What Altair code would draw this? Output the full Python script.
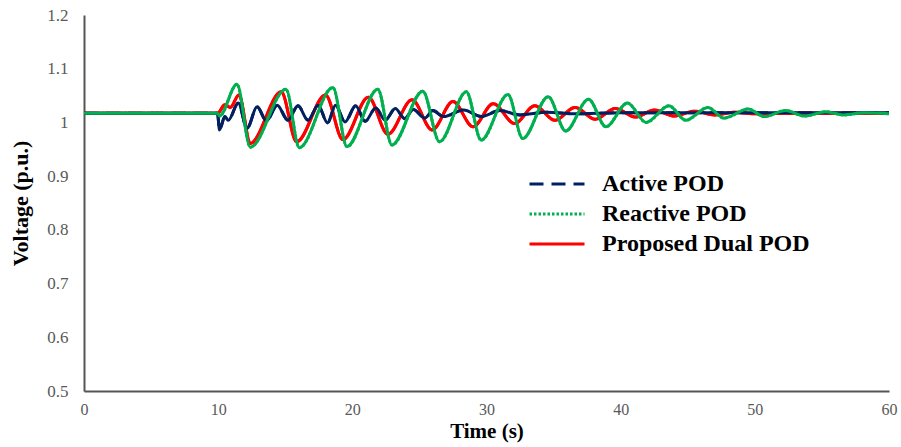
import altair as alt
import pandas as pd

# ---- data ----
SERIES = ["Active POD", "Reactive POD", "Proposed Dual POD"]
COLORS = ["#002060", "#00B050", "#FF0000"]

active_t = [0, 9.95, 10.1, 10.5, 10.75, 11.5, 12.15, 12.9, 13.6, 14.4, 15.2, 15.95, 16.7,
            17.45, 18.15, 18.75, 19.45, 20.25, 20.95, 21.75, 22.45, 23.2, 23.9, 24.55,
            25.4, 26.0, 26.8, 28.3, 29.6, 31.0, 32.5, 34.5, 36.5, 40, 60]
active_v = [1.017, 1.017, 0.986, 1.011, 1.004, 1.036, 0.989, 1.029, 1.003, 1.032, 1.004,
            1.031, 1.004, 1.032, 0.999, 1.032, 1.001, 1.031, 1.002, 1.027, 1.004, 1.026,
            1.007, 1.024, 1.008, 1.022, 1.011, 1.023, 1.011, 1.022, 1.014, 1.019, 1.016,
            1.018, 1.018]

reactive_t = [0, 9.95, 10.1, 11.4, 12.4, 15.05, 16.05, 18.55, 19.6, 21.9, 22.95, 25.25,
              26.5, 28.5, 29.6, 31.6, 32.7, 34.6, 35.9, 37.6, 38.9, 40.5, 41.9, 43.6,
              44.85, 46.5, 47.7, 49.5, 50.7, 52.3, 53.7, 55.3, 56.6, 58.2, 60]
reactive_v = [1.017, 1.017, 1.012, 1.071, 0.954, 1.062, 0.953, 1.065, 0.955, 1.062, 0.958,
              1.058, 0.964, 1.057, 0.967, 1.052, 0.970, 1.048, 0.984, 1.043, 0.992, 1.036,
              1.000, 1.031, 1.004, 1.028, 1.008, 1.025, 1.011, 1.022, 1.012, 1.020, 1.014,
              1.018, 1.016]

dual_t = [0, 9.95, 10.5, 10.9, 11.55, 12.4, 14.7, 15.85, 18.0, 19.3, 21.2, 22.65, 24.45,
          25.95, 27.5, 29.0, 30.5, 32.1, 33.6, 35.1, 36.6, 38.1, 39.6, 41.1, 42.5, 44.0,
          45.5, 47.0, 48.5, 50.0, 52, 60]
dual_v = [1.017, 1.017, 1.033, 1.028, 1.051, 0.961, 1.057, 0.964, 1.051, 0.968, 1.047,
          0.978, 1.042, 0.986, 1.039, 0.992, 1.035, 0.998, 1.031, 1.004, 1.028, 1.006,
          1.026, 1.010, 1.023, 1.012, 1.021, 1.014, 1.019, 1.016, 1.017, 1.017]

x_ticks = [0, 10, 20, 30, 40, 50, 60]
y_ticks = [0.5, 0.6, 0.7, 0.8, 0.9, 1.0, 1.1, 1.2]

rows = []
for name, ts, vs in [(SERIES[0], active_t, active_v),
                     (SERIES[1], reactive_t, reactive_v),
                     (SERIES[2], dual_t, dual_v)]:
    for i, (t, v) in enumerate(zip(ts, vs)):
        rows.append({"series": name, "t": t, "v": v, "i": i})
df = pd.DataFrame(rows)

FONT = "Liberation Serif"

x = alt.X("t:Q", scale=alt.Scale(domain=[0, 60], nice=False),
          axis=alt.Axis(values=x_ticks, title="Time (s)", grid=False, ticks=False,
                        labelPadding=10, titlePadding=3, domainColor="#555555",
                        domainWidth=2, labelFont=FONT, labelFontSize=16,
                        labelColor="#595959", titleFont=FONT, titleFontSize=21,
                        titleFontWeight="bold", titleColor="black", labelFlush=False))
y = alt.Y("v:Q", scale=alt.Scale(domain=[0.5, 1.2], nice=False, zero=False),
          axis=alt.Axis(values=y_ticks, format="~g", title="Voltage (p.u.)", grid=False,
                        ticks=False, labelPadding=16, titlePadding=14,
                        domainColor="#555555", domainWidth=2, labelFont=FONT,
                        labelFontSize=17, labelColor="#595959", titleFont=FONT,
                        titleFontSize=22, titleFontWeight="bold", titleColor="black"))

leg = alt.Legend(title=None, orient="none", legendX=444, legendY=160,
                 symbolType="stroke", symbolSize=3025, symbolStrokeWidth=3,
                 labelFont=FONT, labelFontSize=24, labelFontWeight="bold",
                 labelColor="black", labelOffset=16, clipHeight=18, rowPadding=6,
                 labelLimit=0, padding=0)

legend_layer = alt.Chart(df).mark_line(strokeWidth=3, interpolate="monotone").encode(
    x=x, y=y,
    color=alt.Color("series:N", scale=alt.Scale(domain=SERIES, range=COLORS), legend=leg),
    strokeDash=alt.StrokeDash("series:N",
                              scale=alt.Scale(domain=SERIES,
                                              range=[[14, 8], [2.5, 2], [1, 0]]),
                              legend=leg),
    order="i:Q",
)

solid = []
for name, col in [(SERIES[2], COLORS[2]), (SERIES[0], COLORS[0]), (SERIES[1], COLORS[1])]:
    solid.append(
        alt.Chart(df).transform_filter(alt.datum.series == name)
        .mark_line(strokeWidth=3, interpolate="monotone", color=col)
        .encode(x=x, y=y, order="i:Q")
    )

chart = alt.layer(legend_layer, *solid).properties(
    width=805, height=376,
    autosize=alt.AutoSizeParams(type="none"),
    padding={"left": 84, "top": 15, "right": 12, "bottom": 56},
    background="white",
).configure_view(stroke=None)

chart.save("out.html", embed_options={"renderer": "svg", "actions": False})
